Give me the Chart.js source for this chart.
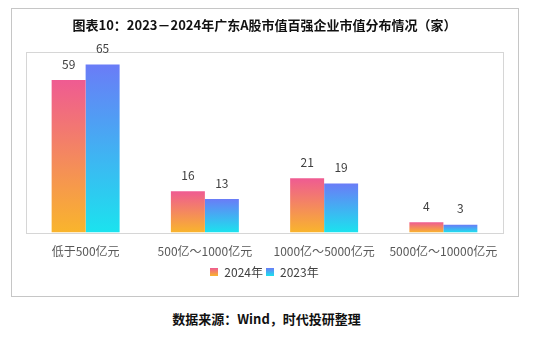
<!DOCTYPE html>
<html>
<head>
<meta charset="utf-8">
<script src="https://cdn.jsdelivr.net/npm/chart.js@4"></script>
<style>
    body { margin: 0; background: #fff; width: 533px; height: 338px; position: relative; overflow: hidden; }
    #frame { position: absolute; left: 11px; top: 8px; width: 508px; height: 289px; box-sizing: border-box; border: 1px solid #c6c6c6; }
    #wrap { position: absolute; left: 0; top: 0; width: 533px; height: 300px; }
    #source { position: absolute; left: 0; top: 309px; width: 533px; text-align: center; font: bold 13px "Noto Sans CJK SC", sans-serif; color: #111; }
</style>
</head>
<body>
<div id="frame"></div>
<div id="wrap"><canvas id="MarketCapChart" width="533" height="300"></canvas></div>
<div id="source">数据来源：Wind，时代投研整理</div>
<script>
const categories = ["低于500亿元", "500亿～1000亿元", "1000亿～5000亿元", "5000亿～10000亿元"];
const seriesNames = ["2024年", "2023年"];
const values2024 = [59, 16, 21, 4];
const values2023 = [65, 13, 19, 3];

// top / bottom colours of each bar's vertical gradient
const warmStops = ["#ef5b92", "#f9b52c"];
const coolStops = ["#6a7cf7", "#1be3ee"];

function barGradient(stops) {
    return function (ctx) {
        const chart = ctx.chart;
        const y = chart.scales && chart.scales.y;
        if (!y || ctx.raw === undefined || !chart.chartArea) return stops[1];
        const top = y.getPixelForValue(ctx.raw);
        const base = y.getPixelForValue(0);
        const g = chart.ctx.createLinearGradient(0, top, 0, base);
        g.addColorStop(0, stops[0]);
        g.addColorStop(1, stops[1]);
        return g;
    };
}

function legendSwatch(stops) {
    const c = document.createElement("canvas");
    c.width = 8;
    c.height = 8;
    const cx = c.getContext("2d");
    const g = cx.createLinearGradient(0, 0, 0, 8);
    g.addColorStop(0, stops[0]);
    g.addColorStop(1, stops[1]);
    cx.fillStyle = g;
    cx.fillRect(0, 0, 8, 8);
    return c;
}
const swatches = [legendSwatch(warmStops), legendSwatch(coolStops)];

// thin grey box round the plot area
const plotFrame = {
    id: "plotFrame",
    beforeDatasetsDraw(chart) {
        const { ctx, chartArea: a } = chart;
        ctx.save();
        ctx.strokeStyle = "#d6d6d6";
        ctx.lineWidth = 1;
        ctx.strokeRect(Math.round(a.left) + 0.5, Math.round(a.top) + 0.5,
            Math.round(a.right - a.left), Math.round(a.bottom - a.top));
        ctx.restore();
    }
};

// value printed above every bar
const barValues = {
    id: "barValues",
    afterDatasetsDraw(chart) {
        const ctx = chart.ctx;
        ctx.save();
        ctx.font = '12px "Noto Sans CJK SC", sans-serif';
        ctx.fillStyle = "#404040";
        ctx.textAlign = "center";
        ctx.textBaseline = "middle";
        chart.data.datasets.forEach((ds, i) => {
            chart.getDatasetMeta(i).data.forEach((bar, j) => {
                ctx.fillText(ds.data[j], bar.x, bar.y - 16);
            });
        });
        ctx.restore();
    }
};

new Chart(document.querySelector("#MarketCapChart"), {
    type: "bar",
    data: {
        labels: categories,
        datasets: [{
            label: seriesNames[0],
            data: values2024,
            backgroundColor: barGradient(warmStops)
        }, {
            label: seriesNames[1],
            data: values2023,
            backgroundColor: barGradient(coolStops)
        }]
    },
    options: {
        responsive: false,
        animation: false,
        layout: { padding: { left: 26, right: 30, top: 0, bottom: 12 } },
        categoryPercentage: 0.57,
        barPercentage: 1,
        scales: {
            x: {
                grid: { display: false },
                border: { display: false },
                ticks: {
                    color: "#595959",
                    padding: 4,
                    font: { family: '"Noto Sans CJK SC", sans-serif', size: 12 }
                }
            },
            y: {
                display: false,
                min: 0,
                max: 70
            }
        },
        plugins: {
            title: {
                display: true,
                text: "图表10：2023－2024年广东A股市值百强企业市值分布情况（家）",
                color: "#111",
                font: { family: '"Noto Sans CJK SC", sans-serif', size: 13, weight: "bold" },
                padding: { top: 17, bottom: 19 }
            },
            legend: {
                position: "bottom",
                labels: {
                    color: "#404040",
                    font: { family: '"Noto Sans CJK SC", sans-serif', size: 12 },
                    usePointStyle: true,
                    boxWidth: 8,
                    boxHeight: 8,
                    padding: 3,
                    generateLabels(chart) {
                        const items = Chart.defaults.plugins.legend.labels.generateLabels(chart);
                        items.forEach((it, i) => { it.pointStyle = swatches[i]; });
                        return items;
                    }
                }
            },
            tooltip: { enabled: false }
        }
    },
    plugins: [plotFrame, barValues]
});
</script>
</body>
</html>
